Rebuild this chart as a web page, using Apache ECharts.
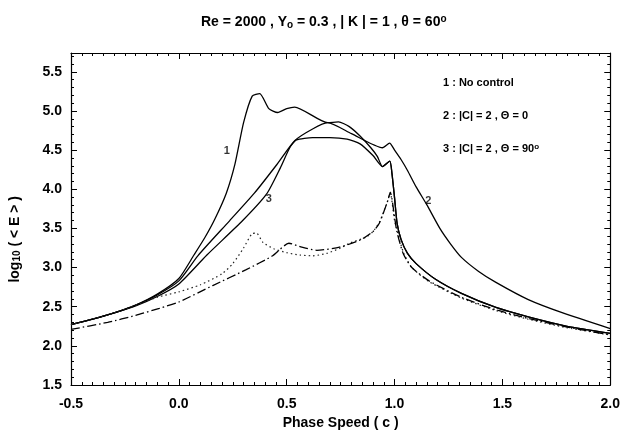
<!DOCTYPE html>
<html>
<head>
<meta charset="utf-8">
<script src="https://cdn.jsdelivr.net/npm/echarts@6/dist/echarts.min.js"></script>
</head>
<body style="margin:0">
<div id="chart" style="width:623px;height:437px"></div>
<script>
// curve 1 : no control
var noControl = [[-0.5,2.27],[-0.4,2.34],[-0.3,2.42],[-0.2,2.52],[-0.1,2.66],[0.0,2.86],[0.07,3.16],[0.12,3.38],[0.167,3.62],
  [0.22,3.95],[0.26,4.32],[0.30,4.85],[0.34,5.19],[0.375,5.22],[0.417,5.03],[0.458,4.98],[0.5,5.03],[0.537,5.05],
  [0.69,4.85],[0.74,4.86],[0.79,4.80],[0.84,4.68],[0.89,4.53],[0.92,4.42],[0.944,4.29],[0.978,4.36],[0.988,4.2],
  [1.0,3.89],[1.012,3.56],[1.03,3.36],[1.06,3.18],[1.1,3.05],[1.19,2.85],[1.31,2.67],[1.47,2.49],[1.62,2.37],[1.8,2.25],[2.0,2.16]];
// curve 2 : |C| = 2, theta = 0
var theta0 = [[-0.5,2.27],[-0.4,2.34],[-0.3,2.42],[-0.2,2.52],[-0.1,2.65],[0.0,2.83],[0.088,3.15],[0.236,3.6],
  [0.35,3.95],[0.45,4.3],[0.537,4.62],[0.62,4.77],[0.69,4.85],[0.8,4.71],[0.944,4.53],[0.977,4.59],[1.0,4.5],
  [1.03,4.38],[1.06,4.24],[1.1,4.03],[1.15,3.8],[1.21,3.5],[1.26,3.3],[1.31,3.13],[1.39,2.95],[1.47,2.81],
  [1.62,2.59],[1.78,2.42],[2.0,2.22]];
// curve 3 : |C| = 2, theta = 90
var theta90 = [[-0.5,2.27],[-0.4,2.34],[-0.3,2.42],[-0.2,2.51],[-0.1,2.63],[0.0,2.79],[0.13,3.16],[0.296,3.6],
  [0.407,3.94],[0.47,4.27],[0.514,4.53],[0.545,4.63],[0.62,4.66],[0.70,4.66],[0.78,4.64],[0.84,4.58],[0.9,4.43],
  [0.944,4.29],[0.978,4.36],[0.988,4.2],[1.0,3.89],[1.012,3.56],[1.03,3.36],[1.06,3.18],[1.1,3.05],[1.19,2.85],[1.31,2.67],
  [1.47,2.49],[1.62,2.37],[1.8,2.25],[2.0,2.16]];
var dotted = [[-0.5,2.27],[-0.3,2.42],[-0.1,2.62],[0.0,2.69],[0.1,2.78],[0.2,2.92],[0.25,3.05],[0.30,3.25],
  [0.338,3.43],[0.36,3.44],[0.39,3.32],[0.44,3.24],[0.5,3.19],[0.56,3.16],[0.62,3.15],[0.685,3.18],[0.75,3.25],
  [0.79,3.31],[0.87,3.39],[0.90,3.46],[0.93,3.58],[0.968,3.85],[0.98,3.96],[1.0,3.6],[1.04,3.2],[1.08,3.0],
  [1.16,2.82],[1.31,2.61],[1.47,2.45],[1.62,2.34],[1.8,2.23],[2.0,2.14]];
var dashDot = [[-0.5,2.21],[-0.33,2.30],[-0.2,2.39],[-0.09,2.48],[0.0,2.56],[0.157,2.77],[0.31,2.97],[0.435,3.15],
  [0.51,3.31],[0.57,3.26],[0.64,3.22],[0.745,3.26],[0.84,3.35],[0.90,3.46],[0.93,3.57],[0.968,3.85],[0.98,3.96],
  [1.01,3.47],[1.04,3.18],[1.08,3.0],[1.16,2.83],[1.31,2.62],[1.47,2.46],[1.62,2.35],[1.8,2.24],[2.0,2.14]];
var curveLabels = [[0.222,4.49,'1'],[0.417,3.87,'3'],[1.157,3.85,'2']];
var legendLines = ['1 : No control', '2 : |C| = 2 , \u0398 = 0', '3 : |C| = 2 , \u0398 = 90{p|o}'];

var font = 'Liberation Sans, Arial, sans-serif';
var chart = echarts.init(document.getElementById('chart'));

function axisCommon(show) {
    return {
        type: 'value',
        axisLine: { show: true, onZero: false, lineStyle: { color: '#000', width: 1.2 } },
        axisTick: { show: true, inside: true, length: 6, lineStyle: { color: '#000' } },
        minorTick: { show: true, length: 3, lineStyle: { color: '#000' } },
        splitLine: { show: false },
        axisLabel: { show: show, color: '#000', fontFamily: font, fontWeight: 'bold', fontSize: 14 }
    };
}

var xBottom = axisCommon(true);
xBottom.min = -0.5; xBottom.max = 2.0; xBottom.interval = 0.5; xBottom.position = 'bottom';
xBottom.minorTick.splitNumber = 10;
xBottom.axisLabel.margin = 12;
xBottom.axisLabel.formatter = function (v) { return v.toFixed(1); };
xBottom.name = 'Phase Speed ( c )';
xBottom.nameLocation = 'middle';
xBottom.nameGap = 29;
xBottom.nameTextStyle = { color: '#000', fontFamily: font, fontWeight: 'bold', fontSize: 14 };

var xTop = axisCommon(false);
xTop.min = -0.5; xTop.max = 2.0; xTop.interval = 0.5; xTop.position = 'top';
xTop.minorTick.splitNumber = 10;

var yLeft = axisCommon(true);
yLeft.min = 1.5; yLeft.max = 5.74; yLeft.interval = 0.5; yLeft.position = 'left';
yLeft.minorTick.splitNumber = 5;
yLeft.axisLabel.showMaxLabel = false;
yLeft.axisLabel.margin = 9;
yLeft.axisLabel.formatter = function (v) { return v.toFixed(1); };

var yRight = axisCommon(false);
yRight.min = 1.5; yRight.max = 5.74; yRight.interval = 0.5; yRight.position = 'right';
yRight.minorTick.splitNumber = 5;

function curve(name, data, style) {
    return {
        name: name, type: 'line', data: data, symbol: 'none',
        smooth: 0.2,
        lineStyle: style
    };
}

chart.setOption({
    animation: false,
    backgroundColor: '#fff',
    title: {
        text: 'Re = 2000 , Y{s|o} = 0.3 , | K | = 1 , \u03b8 = 60{p|o}',
        left: 196, top: 9,
        textStyle: {
            color: '#000', fontFamily: font, fontWeight: 'bold', fontSize: 14,
            rich: {
                s: { fontSize: 10, fontWeight: 'bold', fontFamily: font, verticalAlign: 'bottom', padding: [6, 0, 0, 0] },
                p: { fontSize: 10, fontWeight: 'bold', fontFamily: font, verticalAlign: 'top', padding: [0, 0, 4, 0] }
            }
        }
    },
    grid: { left: 71, right: 12, top: 53, bottom: 52 },
    xAxis: [xBottom, xTop],
    yAxis: [yLeft, yRight],
    series: [
        curve('1', noControl, { color: '#000', width: 1.3 }),
        curve('2', theta0, { color: '#000', width: 1.3 }),
        curve('3', theta90, { color: '#000', width: 1.3 }),
        curve('dotted', dotted, { color: '#222', width: 1.2, type: [1.5, 3] }),
        curve('dashdot', dashDot, { color: '#000', width: 1.3, type: [9, 3, 1.5, 3] }),
        {
            type: 'scatter', data: curveLabels, symbolSize: 0,
            label: {
                show: true, position: 'inside', color: '#000', fontFamily: font, fontWeight: 'bold', fontSize: 11,
                formatter: function (p) { return p.value[2]; }
            }
        }
    ],
    graphic: [
        {
            type: 'text', left: 8, top: 196, rotation: Math.PI / 2,
            style: {
                text: 'log{s|10} ( < E > )', fill: '#000', fontFamily: font, fontWeight: 'bold', fontSize: 14,
                rich: { s: { fontSize: 10, fontWeight: 'bold', fontFamily: font, padding: [5, 0, 0, 0] } }
            }
        }
    ].concat(legendLines.map(function (t, i) {
        return {
            type: 'text', left: 443, top: 77 + i * 33,
            style: {
                text: t, fill: '#000', fontFamily: font, fontWeight: 'bold', fontSize: 11,
                rich: { p: { fontSize: 8, fontWeight: 'bold', fontFamily: font, padding: [0, 0, 4, 0] } }
            }
        };
    }))
});
</script>
</body>
</html>
